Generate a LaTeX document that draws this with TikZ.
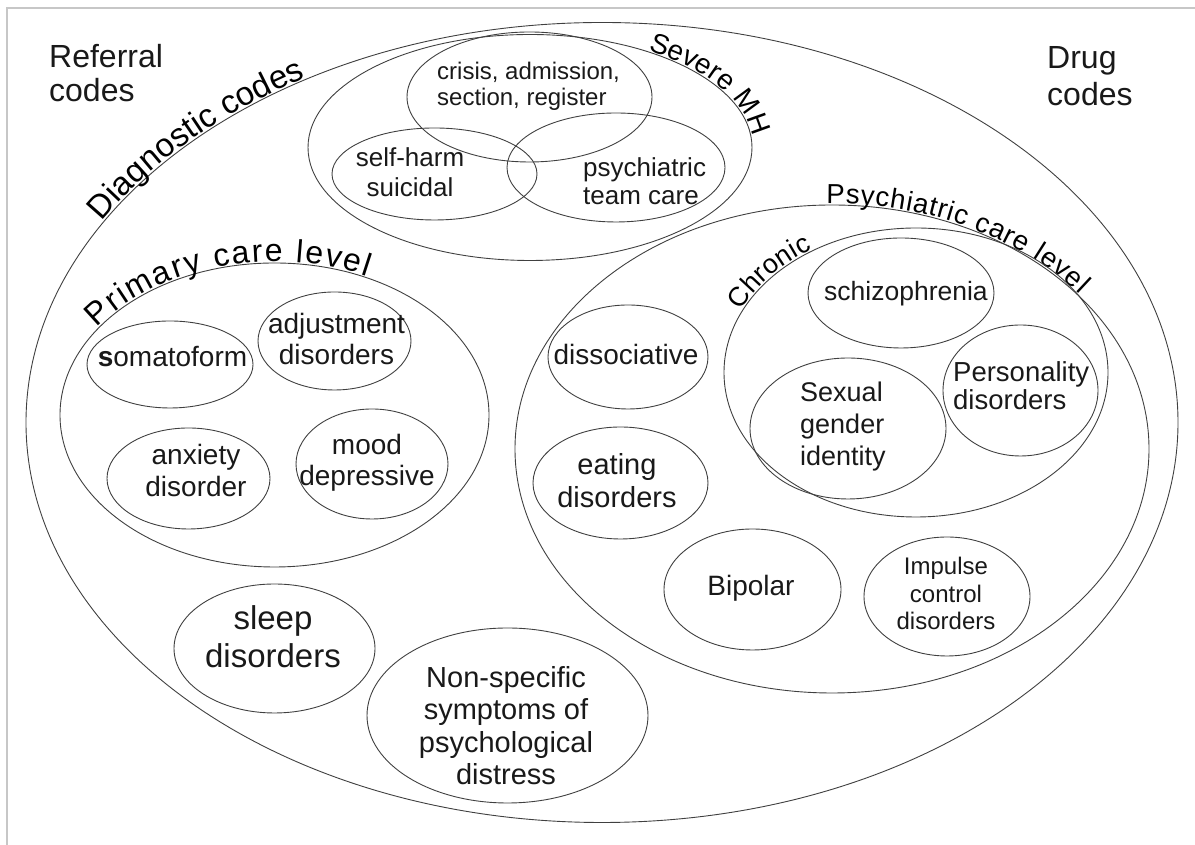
\documentclass[tikz,border=0pt]{standalone}
\usepackage{fontspec}
\setmainfont{Liberation Sans}
\usetikzlibrary{decorations.text}
\newcommand{\fsz}[2]{\fontsize{#1}{#2}\selectfont}
\tikzset{
  frame line/.style={
    draw=black!22,
    line width=1.5pt
  },
  ring/.style={
    draw=black!75,
    line width=0.9pt
  },
  blob text/.style={
    inner sep=0pt,
    align=center,
    text=black!90
  },
  side text/.style={
    inner sep=0pt,
    align=left,
    anchor=west,
    text=black!90
  },
  arc text/.style={
    decorate,
    decoration={text along path, text align={fit to path}, raise=#1}
  },
  arc text/.default=1.5pt
}

\begin{document}
\begin{tikzpicture}[x=1pt, y=1pt]
    \useasboundingbox (0,0) rectangle (1195,845);

    % 1. 页面边线
    \draw[frame line] (7,0) -- (7,837) -- (1195,837);

    % 2. 外围代码标签
    \node[side text, font=\fsz{32}{33.5}] (referral) at (49,771.7) {Referral\\codes};
    \node[side text, font=\fsz{32}{37}] (drug) at (1047,769) {Drug\\codes};

    % 3. 诊断代码大椭圆
    \draw[ring] (602,422.5) ellipse[x radius=576, y radius=400];
    \path[arc text, shift={(602,422.5)}, decoration={text={|\fsz{33}{36}|Diagnostic codes}}]
      (150:576 and 400) arc[start angle=150, end angle=121, x radius=576, y radius=400];

    % 4. Severe MH 及其三个子集
    \draw[ring] (530,697.5) ellipse[x radius=222, y radius=113];
    \path[arc text, shift={(530,697.5)}, decoration={text={|\fsz{28}{30}|Severe MH}}]
      (58:222 and 113) arc[start angle=58, end angle=7, x radius=222, y radius=113];
    \draw[ring] (529.5,748) ellipse[x radius=122.5, y radius=65];
    \draw[ring] (434.5,671) ellipse[x radius=102.5, y radius=46];
    \draw[ring] (616,677.5) ellipse[x radius=109, y radius=54.5];
    \node[side text, font=\fsz{24}{26}] (crisis) at (437,758.2) {crisis, admission,\\section, register};
    \node[blob text, font=\fsz{26}{30}] (selfharm) at (410,672.5) {self-harm\\suicidal};
    \node[side text, font=\fsz{26}{28}] (teamcare) at (583,663.5) {psychiatric\\team care};

    % 5. Primary care level
    \draw[ring] (274.5,430) ellipse[x radius=214.5, y radius=152];
    \path[arc text, shift={(274.5,430)}, decoration={text={|\fsz{32}{35}|Primary care level}}]
      (145.5:214.5 and 152) arc[start angle=145.5, end angle=64.5, x radius=214.5, y radius=152];
    \draw[ring] (170,480.5) ellipse[x radius=83, y radius=43.5];
    \draw[ring] (334.5,504) ellipse[x radius=76.5, y radius=49];
    \draw[ring] (188.5,366.5) ellipse[x radius=81.5, y radius=50.5];
    \draw[ring] (372,381) ellipse[x radius=76, y radius=55];
    \node[blob text, font=\fsz{28}{31}] (somato) at (172.5,488.2) {{\bfseries s}omatoform};
    \node[blob text, font=\fsz{28}{31}] (adjust) at (336.5,505.7) {adjustment\\disorders};
    \node[blob text, font=\fsz{28}{32}] (anxiety) at (196,374) {anxiety\\disorder};
    \node[blob text, font=\fsz{28}{31}] (mood) at (367,382.7) {mood\\depressive};

    % 6. 其余两个
    \draw[ring] (274.5,196.5) ellipse[x radius=100.5, y radius=64.5];
    \draw[ring] (507.5,129.5) ellipse[x radius=140.5, y radius=87.5];
    \node[blob text, font=\fsz{33}{38}] (sleep) at (273,208) {sleep\\disorders};
    \node[blob text, font=\fsz{29}{32.4}] (nonspec) at (506,119.2) {Non-specific\\symptoms of\\psychological\\distress};

    % 7. Psychiatric care level
    \draw[ring] (832,396) ellipse[x radius=317, y radius=244];
    \path[arc text, shift={(832,396)}, decoration={text={|\fsz{27.5}{30}|Psychiatric care level}}]
      (91:317 and 244) arc[start angle=91, end angle=39, x radius=317, y radius=244];
    \draw[ring] (628,488) ellipse[x radius=80, y radius=52];
    \draw[ring] (620.5,362) ellipse[x radius=87.5, y radius=56];
    \draw[ring] (752.5,255.5) ellipse[x radius=88.5, y radius=60.5];
    \draw[ring] (947,248.5) ellipse[x radius=83, y radius=59.5];
    \node[blob text, font=\fsz{28}{31}] (dissoc) at (626,490.2) {dissociative};
    \node[blob text, font=\fsz{29}{33}] (eating) at (617,363.9) {eating\\disorders};
    \node[blob text, font=\fsz{28}{31}] (bipolar) at (751,257.2) {Bipolar};
    \node[blob text, font=\fsz{24}{27.5}] (impulse) at (946,251.25) {Impulse\\control\\disorders};

    % 8. Chronic
    \draw[ring] (916,472.5) ellipse[x radius=192, y radius=144.5];
    \path[arc text, shift={(916,472.5)}, decoration={text={|\fsz{27}{29}|Chronic}}]
      (155:192 and 144.5) arc[start angle=155, end angle=122.5, x radius=192, y radius=144.5];
    \draw[ring] (901,552) ellipse[x radius=93, y radius=55];
    \draw[ring] (1020.5,454.5) ellipse[x radius=77.5, y radius=65.5];
    \draw[ring] (848,416.5) ellipse[x radius=98, y radius=70.5];
    \node[blob text, font=\fsz{26.5}{29}] (schizo) at (906,550.9) {schizophrenia};
    \node[side text, font=\fsz{27.5}{28}] (person) at (953,459) {Personality\\disorders};
    \node[side text, font=\fsz{27}{32}] (sexual) at (800,418.7) {Sexual\\gender\\identity};

\end{tikzpicture}
\end{document}
